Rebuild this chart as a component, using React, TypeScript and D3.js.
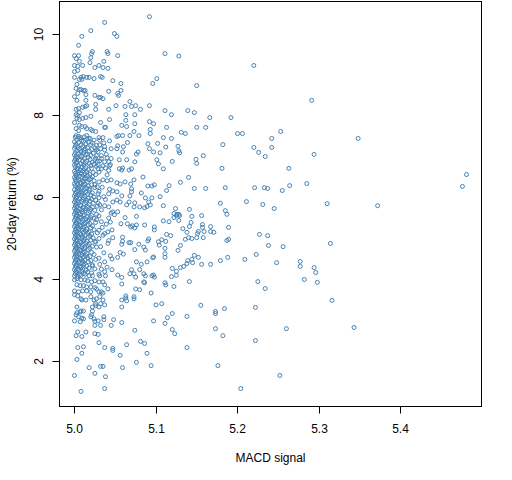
import React from 'react';
import * as d3 from 'd3';

const xTicks = [5.0, 5.1, 5.2, 5.3, 5.4];
const yTicks = [2, 4, 6, 8, 10];
const xLabel = 'MACD signal';
const yLabel = '20-day return (%)';
const pointColor = '#4682B4';

// [MACD signal, 20-day return %]
const upperPoints: [number, number][] = [
  [5.092,10.41],[5.037,10.27],[5.020,10.07],[5.049,10.00],[5.052,9.93],[5.009,9.93],[5.005,9.71],[5.040,9.56],[5.041,9.51],[5.022,9.56],
  [5.021,9.51],[5.053,9.46],[5.111,9.51],[5.000,9.46],[5.005,9.46],[5.002,9.39],[5.020,9.41],[5.019,9.29],[5.006,9.32],[5.036,9.32],
  [5.010,9.22],[5.030,9.22],[5.000,9.22],[5.000,9.07],[5.000,8.93],[5.004,9.20],[5.004,9.10],[5.025,9.17],[5.035,9.17],[5.041,9.15],
  [5.008,8.93],[5.011,8.95],[5.015,8.93],[5.006,8.88],[5.003,8.76],[5.009,8.88],[5.018,8.93],[5.024,8.90],[5.032,8.95],[5.034,8.93],
  [5.047,8.85],[5.057,8.78],[5.101,8.90],[5.096,8.78],[5.002,8.66],[5.006,8.63],[5.008,8.63],[5.011,8.61],[5.013,8.61],[5.004,8.54],
  [5.014,8.51],[5.000,8.46],[5.025,8.49],[5.030,8.44],[5.032,8.44],[5.035,8.41],[5.042,8.59],[5.057,8.61],[5.053,8.54],[5.054,8.49],
  [5.003,8.37],[5.014,8.37],[5.068,8.34],[5.051,8.24],[5.062,8.22],[5.070,8.22],[5.075,8.24],[5.081,8.15],[5.092,8.24],[5.111,8.12],
  [5.026,8.27],[5.026,8.15],[5.042,8.15],[5.015,8.24],[5.013,8.22],[5.010,8.20],[5.002,8.15],[5.005,8.17],[5.006,8.07],[5.002,8.02],
  [5.004,8.00],[5.003,7.93],[5.006,7.90],[5.010,7.93],[5.014,7.95],[5.020,7.98],[5.063,8.02],[5.074,8.02],[5.063,7.88],[5.043,7.90],
  [5.032,7.83],[5.000,7.83],[5.092,7.85],[5.097,7.80],[5.037,7.71],[5.038,7.71],[5.058,7.76],[5.064,7.73],[5.074,7.80],[5.006,7.76],
  [5.009,7.73],[5.013,7.73],[5.002,7.68],[5.005,7.63],[5.015,7.68],[5.020,7.66],[5.022,7.63],[5.026,7.61],[5.073,7.61],[5.093,7.66],
  [5.093,7.56],[5.054,7.51],[5.059,7.51],[5.068,7.51],[5.079,7.51],[5.002,7.51],[5.005,7.49],[5.008,7.46],[5.015,7.51],[5.017,7.44],
  [5.030,7.46],[5.035,7.46],[5.052,7.49],[5.109,7.46],
];

const midPoints: [number, number][] = [
  [5.112,7.23],[5.031,7.28],[5.037,7.24],[5.053,7.26],[5.060,7.24],[5.027,7.16],[5.032,7.19],[5.037,7.16],[5.045,7.19],[5.052,7.19],
  [5.059,7.11],[5.078,7.11],[5.076,7.06],[5.092,7.19],[5.097,7.11],[5.105,7.09],[5.043,7.38],[5.065,7.34],[5.090,7.31],[5.102,7.32],
  [5.027,7.02],[5.033,7.02],[5.040,6.97],[5.045,6.95],[5.025,6.92],[5.031,6.89],[5.037,6.87],[5.042,6.87],[5.043,6.77],[5.035,6.77],
  [5.029,6.80],[5.029,6.70],[5.033,6.70],[5.038,6.72],[5.055,6.70],[5.058,6.67],[5.059,6.72],[5.067,6.67],[5.070,6.70],[5.101,6.92],
  [5.103,6.82],[5.109,6.70],[5.074,6.87],[5.055,6.92],[5.064,6.92],[5.084,6.50],[5.073,6.43],[5.062,6.38],[5.052,6.36],[5.056,6.33],
  [5.045,6.43],[5.040,6.41],[5.035,6.43],[5.030,6.38],[5.025,6.31],[5.090,6.28],[5.095,6.28],[5.098,6.31],[5.069,6.33],[5.070,6.21],
  [5.070,6.14],[5.082,6.11],[5.068,6.04],[5.058,6.04],[5.052,6.14],[5.047,6.16],[5.042,6.09],[5.036,6.02],[5.030,5.99],[5.029,6.09],
  [5.087,5.99],[5.095,5.99],[5.105,6.02],[5.091,5.89],[5.093,5.82],[5.089,5.78],[5.086,5.75],[5.109,5.80],[5.074,5.87],[5.067,5.89],
  [5.064,5.82],[5.052,5.94],[5.056,5.89],[5.047,5.89],[5.042,5.77],[5.037,5.80],[5.031,5.82],[5.073,5.77],[5.080,5.77],[5.062,5.51],
  [5.076,5.54],[5.053,5.65],[5.047,5.65],[5.049,5.58],[5.042,5.50],[5.033,5.41],[5.027,5.46],[5.065,5.36],[5.071,5.31],[5.076,5.33],
  [5.074,5.26],[5.069,5.28],[5.057,5.36],[5.046,5.21],[5.041,5.16],[5.109,5.43],[5.098,5.28],[5.098,5.21],[5.086,5.33],[5.107,4.97],
  [5.103,4.92],[5.104,4.84],[5.091,4.99],[5.090,4.94],[5.079,4.86],[5.085,4.79],[5.067,4.90],[5.069,4.90],[5.059,5.03],[5.059,4.93],
  [5.058,4.86],[5.047,5.02],[5.042,4.95],[5.035,5.08],[5.030,5.00],[5.025,4.93],[5.074,4.73],[5.087,4.72],[5.097,4.55],[5.096,4.53],
  [5.056,4.66],[5.060,4.62],[5.076,4.43],[5.082,4.37],[5.089,4.43],[5.053,4.54],[5.046,4.50],[5.037,4.43],[5.031,4.37],[5.022,4.33],
  [5.070,4.24],[5.080,4.24],[5.068,4.14],[5.073,4.14],[5.046,4.24],[5.037,4.19],[5.030,4.13],[5.085,4.14],[5.097,4.11],
  [5.031,7.40],[5.036,7.33],[5.029,7.12],[5.039,7.05],[5.033,6.95],[5.044,6.80],[5.030,6.62],[5.040,6.55],[5.034,6.25],[5.043,6.20],
  [5.030,6.15],[5.038,5.95],[5.033,5.70],[5.045,5.62],[5.030,5.55],[5.039,5.35],[5.034,5.27],[5.044,5.40],[5.030,5.20],[5.037,5.12],
  [5.041,4.88],[5.032,4.80],[5.036,4.65],[5.044,4.58],[5.030,4.52],[5.040,4.30],[5.033,4.25],[5.028,6.88],[5.042,6.66],[5.029,5.86],
];

const densePoints: [number, number][] = [
  [5.001,7.47],[5.006,7.45],[5.012,7.48],[5.019,7.44],[5.003,7.41],[5.009,7.39],[5.015,7.42],[5.024,7.40],
  [5.000,7.36],[5.005,7.34],[5.011,7.37],[5.017,7.35],[5.022,7.33],[5.002,7.30],[5.008,7.28],[5.014,7.31],[5.020,7.29],[5.027,7.27],
  [5.001,7.25],[5.004,7.22],[5.010,7.24],[5.016,7.21],[5.000,7.20],[5.006,7.18],[5.013,7.19],[5.021,7.17],[5.025,7.21],
  [5.003,7.14],[5.008,7.12],[5.012,7.15],[5.018,7.13],[5.001,7.09],[5.005,7.07],[5.011,7.10],[5.016,7.06],[5.023,7.08],
  [5.000,7.04],[5.007,7.02],[5.014,7.05],[5.020,7.03],[5.002,6.99],[5.004,6.97],[5.009,7.00],[5.017,6.98],[5.026,6.96],
  [5.001,6.94],[5.006,6.92],[5.012,6.95],[5.019,6.93],[5.000,6.89],[5.003,6.87],[5.010,6.90],[5.015,6.88],[5.022,6.86],
  [5.002,6.84],[5.008,6.82],[5.013,6.85],[5.018,6.83],[5.024,6.81],[5.000,6.79],[5.005,6.77],[5.011,6.80],[5.020,6.78],
  [5.001,6.74],[5.004,6.72],[5.009,6.75],[5.014,6.73],[5.021,6.71],[5.027,6.76],[5.003,6.69],[5.007,6.67],[5.012,6.70],[5.017,6.68],
  [5.000,6.64],[5.005,6.62],[5.010,6.65],[5.015,6.63],[5.023,6.61],[5.001,6.59],[5.004,6.57],[5.008,6.60],[5.013,6.58],[5.019,6.56],
  [5.002,6.54],[5.006,6.52],[5.011,6.55],[5.016,6.53],[5.022,6.51],[5.026,6.56],[5.000,6.49],[5.003,6.47],[5.009,6.50],[5.014,6.48],[5.020,6.46],
  [5.001,6.44],[5.005,6.42],[5.012,6.45],[5.018,6.43],[5.024,6.41],[5.002,6.39],[5.007,6.37],[5.010,6.40],[5.016,6.38],
  [5.000,6.34],[5.004,6.32],[5.008,6.35],[5.013,6.33],[5.021,6.31],[5.001,6.29],[5.006,6.27],[5.011,6.30],[5.017,6.28],[5.028,6.26],
  [5.003,6.24],[5.005,6.22],[5.009,6.25],[5.015,6.23],[5.019,6.21],[5.025,6.24],[5.000,6.19],[5.004,6.17],[5.012,6.20],[5.018,6.18],
  [5.002,6.14],[5.007,6.12],[5.010,6.15],[5.014,6.13],[5.022,6.11],[5.001,6.09],[5.005,6.07],[5.009,6.10],[5.016,6.08],[5.020,6.06],
  [5.000,6.04],[5.003,6.02],[5.008,6.05],[5.013,6.03],[5.024,6.01],[5.002,5.99],[5.006,5.97],[5.011,6.00],[5.017,5.98],[5.021,5.96],
  [5.001,5.94],[5.004,5.92],[5.010,5.95],[5.015,5.93],[5.019,5.91],[5.026,5.94],[5.000,5.89],[5.005,5.87],[5.009,5.90],[5.014,5.88],[5.023,5.86],
  [5.002,5.84],[5.007,5.82],[5.012,5.85],[5.018,5.83],[5.001,5.79],[5.003,5.77],[5.008,5.80],[5.016,5.78],[5.022,5.76],[5.028,5.79],
  [5.000,5.74],[5.006,5.72],[5.011,5.75],[5.014,5.73],[5.020,5.71],[5.002,5.69],[5.004,5.67],[5.009,5.70],[5.013,5.68],[5.019,5.66],[5.025,5.69],
  [5.001,5.64],[5.005,5.62],[5.010,5.65],[5.017,5.63],[5.000,5.59],[5.003,5.57],[5.007,5.60],[5.012,5.58],[5.021,5.56],[5.027,5.59],
  [5.002,5.54],[5.006,5.52],[5.011,5.55],[5.015,5.53],[5.020,5.51],[5.001,5.49],[5.004,5.47],[5.008,5.50],[5.014,5.48],[5.018,5.46],[5.024,5.49],
  [5.000,5.44],[5.005,5.42],[5.010,5.45],[5.016,5.43],[5.002,5.39],[5.003,5.37],[5.009,5.40],[5.013,5.38],[5.019,5.36],[5.026,5.39],
  [5.001,5.34],[5.006,5.32],[5.011,5.35],[5.017,5.33],[5.022,5.31],[5.000,5.29],[5.004,5.27],[5.008,5.30],[5.012,5.28],[5.020,5.26],
  [5.002,5.24],[5.005,5.22],[5.010,5.25],[5.015,5.23],[5.024,5.21],[5.001,5.19],[5.003,5.17],[5.009,5.20],[5.014,5.18],[5.018,5.16],
  [5.000,5.14],[5.006,5.12],[5.011,5.15],[5.016,5.13],[5.021,5.11],[5.028,5.14],[5.002,5.09],[5.004,5.07],[5.008,5.10],[5.013,5.08],[5.019,5.06],
  [5.001,5.04],[5.005,5.02],[5.010,5.05],[5.017,5.03],[5.023,5.01],[5.000,4.99],[5.003,4.97],[5.009,5.00],[5.012,4.98],[5.020,4.96],
  [5.002,4.94],[5.006,4.92],[5.011,4.95],[5.015,4.93],[5.026,4.91],[5.001,4.89],[5.004,4.87],[5.008,4.90],[5.014,4.88],[5.018,4.86],
  [5.000,4.84],[5.005,4.82],[5.010,4.85],[5.016,4.83],[5.022,4.81],[5.002,4.79],[5.003,4.77],[5.009,4.80],[5.013,4.78],[5.019,4.76],[5.027,4.79],
  [5.001,4.74],[5.006,4.72],[5.011,4.75],[5.017,4.73],[5.000,4.69],[5.004,4.67],[5.008,4.70],[5.012,4.68],[5.021,4.66],
  [5.002,4.64],[5.005,4.62],[5.010,4.65],[5.015,4.63],[5.024,4.61],[5.001,4.59],[5.003,4.57],[5.009,4.60],[5.014,4.58],[5.019,4.56],
  [5.000,4.54],[5.006,4.52],[5.011,4.55],[5.016,4.53],[5.002,4.49],[5.004,4.47],[5.008,4.50],[5.013,4.48],[5.020,4.46],[5.026,4.49],
  [5.001,4.44],[5.005,4.42],[5.010,4.45],[5.017,4.43],[5.000,4.39],[5.003,4.37],[5.009,4.40],[5.012,4.38],[5.022,4.36],
  [5.002,4.34],[5.006,4.32],[5.011,4.35],[5.015,4.33],[5.001,4.29],[5.004,4.27],[5.008,4.30],[5.018,4.28],[5.025,4.26],
  [5.000,4.24],[5.005,4.22],[5.010,4.25],[5.014,4.23],[5.002,4.19],[5.003,4.17],[5.009,4.20],[5.016,4.18],[5.021,4.16],
  [5.001,4.14],[5.006,4.12],[5.011,4.15],[5.013,4.13],[5.000,4.09],[5.004,4.07],[5.008,4.10],
];

const lowerPoints: [number, number][] = [
  [5.018,4.09],[5.022,4.09],[5.031,4.09],[5.038,4.09],[5.053,4.11],[5.058,4.05],[5.075,4.06],[5.087,4.09],[5.095,4.09],[5.098,4.06],
  [5.085,3.94],[5.086,3.92],[5.111,3.92],[5.112,3.87],[5.000,3.99],[5.003,4.02],[5.008,3.99],[5.013,3.99],[5.016,3.97],[5.021,3.94],
  [5.025,3.97],[5.030,3.94],[5.035,3.94],[5.037,3.87],[5.003,3.87],[5.007,3.85],[5.011,3.85],[5.015,3.82],[5.020,3.82],[5.025,3.80],
  [5.027,3.77],[5.033,3.70],[5.041,3.77],[5.058,3.89],[5.075,3.77],[5.080,3.75],[5.094,3.67],[5.000,3.72],[5.005,3.70],[5.010,3.72],
  [5.015,3.72],[5.020,3.70],[5.030,3.70],[5.035,3.67],[5.000,3.63],[5.004,3.60],[5.008,3.53],[5.009,3.50],[5.014,3.50],[5.020,3.58],
  [5.024,3.50],[5.027,3.53],[5.031,3.58],[5.035,3.50],[5.032,3.41],[5.037,3.38],[5.058,3.50],[5.063,3.60],[5.063,3.55],[5.064,3.48],
  [5.073,3.58],[5.073,3.53],[5.100,3.38],[5.107,3.41],[5.058,3.33],[5.003,3.33],[5.003,3.19],[5.007,3.21],[5.008,3.23],[5.011,3.23],
  [5.002,3.14],[5.005,3.09],[5.009,3.06],[5.000,2.99],[5.007,2.97],[5.022,3.23],[5.021,3.14],[5.020,3.09],[5.024,3.04],[5.022,3.33],
  [5.026,3.36],[5.026,3.41],[5.030,3.33],[5.025,2.98],[5.029,2.99],[5.036,3.09],[5.036,3.02],[5.048,3.02],[5.045,2.88],[5.058,2.95],
  [5.032,2.88],[5.025,2.88],[5.011,3.04],[5.097,2.99],[5.074,2.76],[5.004,2.72],[5.014,2.72],[5.009,2.61],[5.002,2.63],[5.025,2.68],
  [5.029,2.66],[5.030,2.46],[5.004,2.34],[5.011,2.36],[5.009,2.20],[5.037,2.34],[5.047,2.32],[5.047,2.27],[5.064,2.41],[5.081,2.49],
  [5.086,2.44],[5.089,2.20],[5.056,2.15],[5.003,2.05],[5.018,1.85],[5.025,1.71],[5.032,1.88],[5.035,1.88],[5.059,1.85],[5.076,1.98],
  [5.094,1.90],[5.000,1.66],[5.038,1.63],[5.037,1.34],[5.008,1.27],
];

const sparsePoints: [number, number][] = [
  [5.128,9.45],[5.220,9.22],[5.150,8.73],[5.291,8.37],[5.139,8.12],[5.147,8.07],[5.119,8.02],[5.166,7.95],[5.192,7.95],[5.113,7.71],
  [5.150,7.71],[5.161,7.71],[5.253,7.61],[5.131,7.59],[5.136,7.56],[5.200,7.56],[5.206,7.56],[5.119,7.44],[5.242,7.44],[5.182,7.29],
  [5.127,7.25],[5.128,7.14],[5.129,7.09],[5.220,7.22],[5.242,7.22],[5.226,7.10],[5.234,7.00],[5.294,7.05],[5.158,7.02],[5.120,6.88],
  [5.149,6.93],[5.150,6.83],[5.181,6.71],[5.263,6.71],[5.140,6.49],[5.130,6.37],[5.116,6.29],[5.113,6.17],[5.147,6.22],[5.161,6.22],
  [5.185,6.24],[5.221,6.24],[5.233,6.24],[5.237,6.22],[5.255,6.17],[5.264,6.29],[5.285,6.34],[5.179,5.86],[5.211,5.90],[5.231,5.83],
  [5.245,5.73],[5.124,5.73],[5.141,5.71],[5.185,5.68],[5.187,5.59],[5.122,5.61],[5.126,5.59],[5.128,5.59],[5.125,5.56],[5.129,5.56],
  [5.144,5.54],[5.156,5.56],[5.122,5.51],[5.116,5.41],[5.128,5.44],[5.143,5.39],[5.141,5.29],[5.157,5.34],[5.157,5.27],[5.167,5.29],
  [5.189,5.27],[5.133,5.24],[5.138,5.15],[5.152,5.17],[5.159,5.17],[5.167,5.17],[5.171,5.15],[5.151,5.12],[5.113,5.10],[5.118,5.07],
  [5.140,5.02],[5.144,5.00],[5.150,5.02],[5.158,5.02],[5.136,4.98],[5.187,4.95],[5.189,4.98],[5.227,5.10],[5.237,5.07],[5.238,4.83],
  [5.256,4.80],[5.112,4.93],[5.130,4.83],[5.127,4.71],[5.111,4.76],[5.111,4.63],[5.111,4.54],[5.223,4.61],[5.147,4.59],[5.152,4.54],
  [5.139,4.46],[5.144,4.49],[5.145,4.41],[5.138,4.39],[5.134,4.32],[5.130,4.29],[5.120,4.27],[5.125,4.20],[5.125,4.10],[5.119,4.07],
  [5.156,4.37],[5.167,4.37],[5.179,4.46],[5.188,4.54],[5.209,4.49],[5.248,4.41],[5.277,4.44],[5.277,4.32],[5.294,4.29],[5.296,4.17],
  [5.298,3.93],[5.282,4.00],[5.225,3.95],[5.234,3.78],[5.141,3.95],[5.122,3.83],[5.155,3.37],[5.173,3.22],[5.173,3.17],[5.184,3.29],
  [5.222,3.32],[5.120,3.17],[5.114,3.07],[5.138,3.10],[5.111,2.93],[5.120,2.78],[5.123,2.68],[5.173,2.80],[5.182,2.63],[5.260,2.80],
  [5.222,2.51],[5.138,2.34],[5.176,1.90],[5.252,1.66],[5.204,1.34],
  [5.348,7.44],[5.481,6.56],[5.476,6.27],[5.310,5.85],[5.372,5.80],[5.314,4.88],[5.316,3.49],[5.343,2.83],
];

const allPoints = [...upperPoints, ...midPoints, ...densePoints, ...lowerPoints, ...sparsePoints];

export default function App() {
  const W = 512;
  const H = 480;
  const left = 59.5, right = 481.5, top = 1.5, bottom = 406.5;
  const x = d3.scaleLinear().domain([4.9816, 5.4994]).range([left, right]);
  const y = d3.scaleLinear().domain([0.9024, 10.7805]).range([bottom, top]);
  const fmtX = d3.format('.1f');
  const font = 'Liberation Sans, Arial, Helvetica, sans-serif';

  return (
    <svg width={W} height={H} style={{ position: 'absolute', left: 0, top: 0, background: '#fff' }}
      fontFamily={font} fontSize={12}>
      <rect x={0} y={0} width={W} height={H} fill="#fff" />
      <g>
        {allPoints.map((p, i) => (
          <circle key={i} cx={x(p[0])} cy={y(p[1])} r={2.0} fill="none" stroke={pointColor} strokeWidth={1} />
        ))}
      </g>
      <rect x={left} y={top} width={right - left} height={bottom - top} fill="none" stroke="#000" strokeWidth={1} />
      {xTicks.map((t) => (
        <g key={'x' + t}>
          <line x1={Math.round(x(t)) + 0.5} x2={Math.round(x(t)) + 0.5} y1={bottom} y2={bottom + 7} stroke="#000" />
          <text x={Math.round(x(t)) + 0.5} y={433} textAnchor="middle" fill="#000">{fmtX(t)}</text>
        </g>
      ))}
      {yTicks.map((t) => (
        <g key={'y' + t}>
          <line x1={left - 7} x2={left} y1={Math.round(y(t)) + 0.5} y2={Math.round(y(t)) + 0.5} stroke="#000" />
          <text transform={`translate(43, ${Math.round(y(t)) + 0.5}) rotate(-90)`} textAnchor="middle" fill="#000">{t}</text>
        </g>
      ))}
      <text x={(left + right) / 2} y={462} textAnchor="middle" fill="#000">{xLabel}</text>
      <text transform={`translate(16, ${(top + bottom) / 2}) rotate(-90)`} textAnchor="middle" fill="#000">{yLabel}</text>
    </svg>
  );
}
